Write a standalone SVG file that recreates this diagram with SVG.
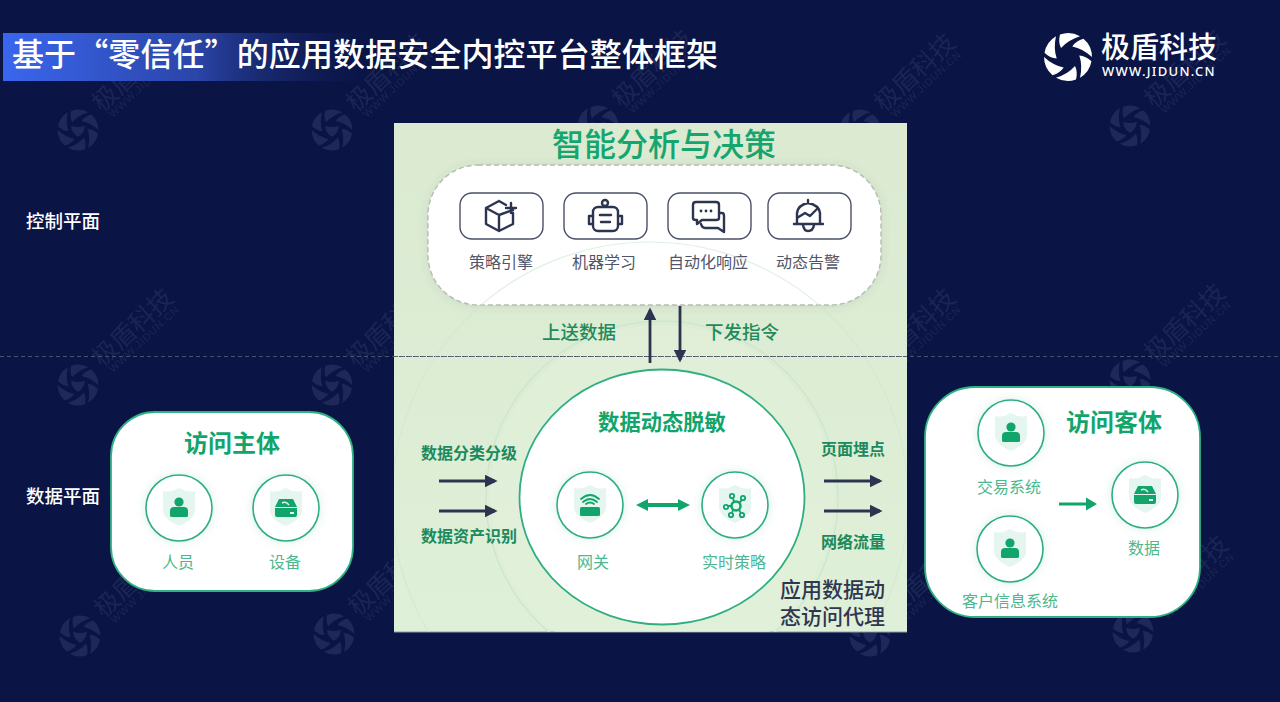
<svg xmlns="http://www.w3.org/2000/svg" width="1280" height="702" viewBox="0 0 1280 702">
<style>
text{font-family:"Noto Sans CJK SC","Noto Sans",sans-serif}
.h{fill:#12a56b;font-weight:700;text-anchor:middle}
.l{fill:#4db78f;font-size:16px;text-anchor:middle}
.d{fill:#50556a;font-size:16px;text-anchor:middle}
.p{fill:#2f3650;font-size:21px;font-weight:500}
.w{fill:#fff;font-size:18.500px;font-weight:500}
.s{fill:#1f8a5c;font-size:18.500px;font-weight:500;text-anchor:middle}
.s2{fill:#1c8a5d;font-size:16px;font-weight:600;text-anchor:middle}
.dk{fill:none;stroke:#2d3450;stroke-width:2.400;stroke-linecap:round;stroke-linejoin:round}
.box{fill:#fff;stroke:#4a5068;stroke-width:1.400}
.ring{fill:#fff;stroke:#2fae7f;stroke-width:1.600}
.card{fill:#fff;stroke:#30b184;stroke-width:1.800}
.wm{fill:#8a94c4}
.arr{stroke:#2d3450;stroke-width:2.800;marker-end:url(#da)}
</style>
<defs>
<filter id="soft" x="-30%" y="-30%" width="160%" height="160%"><feDropShadow dx="0" dy="0" stdDeviation="5" flood-color="#12a56b" flood-opacity=".16"/></filter>
<filter id="soft2" x="-20%" y="-20%" width="140%" height="140%"><feDropShadow dx="0" dy="1" stdDeviation="4" flood-color="#555" flood-opacity=".13"/></filter>
<linearGradient id="tb" x1="0" x2="1" y1="0" y2="0"><stop offset="0" stop-color="#3a66ee"/><stop offset=".5" stop-color="#2b45a8"/><stop offset="1" stop-color="#0a1445" stop-opacity="0"/></linearGradient>
<linearGradient id="pn" x1="0" x2="0" y1="0" y2="1"><stop offset="0" stop-color="#dbead1"/><stop offset="1" stop-color="#dff0d8"/></linearGradient>
<clipPath id="pc"><rect x="394" y="123" width="513" height="509"/></clipPath>
<marker id="da" viewBox="0 0 10 10" refX="8" refY="5" markerWidth="4.600" markerHeight="4.600" orient="auto"><path d="M0 0L10 5L0 10z" fill="#2d3450"/></marker>
<path id="blade" d="M-8-22.500A24 24 0 0 1 12-20.800Q0-17-7-9Q-10-15-8-22.500z"/>
<g id="logo">
<use href="#blade"/><use href="#blade" transform="rotate(60)"/><use href="#blade" transform="rotate(120)"/><use href="#blade" transform="rotate(180)"/><use href="#blade" transform="rotate(240)"/><use href="#blade" transform="rotate(300)"/>
</g>
<g id="mark">
<g opacity=".16" transform="scale(.85)" class="wm"><use href="#logo"/><path d="M-8-5Q0-2 8-5Q8 3 0 8Q-8 3-8-5z"/></g>
<g opacity=".13">
<text transform="translate(24,-17) rotate(-43)" class="wm" style="font-size:25px">极盾科技</text>
<text transform="translate(35,-12) rotate(-43)" class="wm" style="font-size:10.500px;letter-spacing:.9px;font-family:'Liberation Sans',sans-serif">WWW.JIDUN.CN</text>
</g>
</g>
<path id="shield" d="M-16-17Q-8-15 0-20Q8-15 16-17V4Q14 12 0 18Q-14 12-16 4z" fill="#e5f5ef"/>
<g id="person"><use href="#shield"/><circle cx="0" cy="-6" r="4.600" fill="#12a56b"/><path d="M-9 8V3Q-9-1-5-1H5Q9-1 9 3V8Q9 9 7 9H-7Q-9 9-9 8z" fill="#12a56b"/></g>
<g id="disk"><use href="#shield"/><path d="M-7-9H7L11-1H-11z" fill="#12a56b"/><path d="M-11 0H11V7Q11 9 9 9H-9Q-11 9-11 7z" fill="#12a56b"/><path d="M3-3Q0-7-4-5" fill="none" stroke="#e5f5ef" stroke-width="1.400"/><rect x="4" y="4" width="4" height="2" fill="#e5f5ef"/></g>
</defs>
<rect width="1280" height="702" fill="#0a1445"/>
<g id="watermarks">
<use href="#mark" x="78" y="130"/><use href="#mark" x="332" y="130"/><use href="#mark" x="598" y="126"/><use href="#mark" x="860" y="130"/><use href="#mark" x="1130" y="126"/>
<use href="#mark" x="78" y="385"/><use href="#mark" x="332" y="385"/><use href="#mark" x="860" y="385"/><use href="#mark" x="1130" y="380"/>
<use href="#mark" x="80" y="636"/><use href="#mark" x="334" y="634"/><use href="#mark" x="870" y="636"/><use href="#mark" x="1133" y="632"/>
</g>
<rect id="title-bar" x="3" y="33" width="388" height="48" fill="url(#tb)"/>
<text x="12" y="66" fill="#fff" style="font-size:32px;font-weight:500;letter-spacing:.1px">基于“零信任”的应用数据安全内控平台整体框架</text>
<g id="brand">
<g transform="translate(1068,57)" fill="#fff"><use href="#logo"/></g>
<text x="1101" y="58" fill="#fff" style="font-size:29px;font-weight:500">极盾科技</text>
<text x="1102" y="76" fill="#fff" style="font-size:13px;font-weight:500;font-family:'Noto Sans','Liberation Sans',sans-serif;letter-spacing:1.300px">WWW.JIDUN.CN</text>
</g>
<rect id="panel" x="394" y="123" width="513" height="509" fill="url(#pn)"/>
<line x1="394" y1="632" x2="907" y2="632" stroke="#8f9cab" stroke-width="1"/>
<circle cx="662" cy="497" r="172" fill="#e2f0da" opacity=".6" clip-path="url(#pc)"/>
<circle cx="662" cy="497" r="176" fill="none" stroke="#cde6cf" stroke-width="1.500" clip-path="url(#pc)"/>
<line x1="0" y1="356.500" x2="1280" y2="356.500" stroke="#4a5068" stroke-width="1" stroke-dasharray="4 3"/>
<text x="26" y="228" class="w">控制平面</text>
<text x="26" y="503" class="w">数据平面</text>
<text x="664" y="156" style="fill:#16a56f;font-size:32px;font-weight:500;text-anchor:middle">智能分析与决策</text>
<g id="analysis">
<rect x="428" y="165" width="453" height="140" rx="50" fill="#fff" stroke="#b5bdb2" stroke-width="1.400" stroke-dasharray="5 3" filter="url(#soft2)"/>
<g id="n-policy-engine">
<rect class="box" x="460" y="193" width="83" height="46" rx="12"/>
<g class="dk"><path d="M499 201L486 208V224L499 231L513 224V213M486 208L499 215L513 210M499 215V231M499 201L506 205"/><path d="M511 203V213M506 208H516"/></g>
<text x="501" y="268" class="d">策略引擎</text>
</g>
<g id="n-ml">
<rect class="box" x="564" y="193" width="83" height="46" rx="12"/>
<g class="dk"><rect x="593" y="207" width="25" height="24" rx="5"/><circle cx="605" cy="203" r="3"/><path d="M593 216H589V224H593M618 216H622V224H618M600 215H611M601 222H610"/></g>
<text x="604" y="268" class="d">机器学习</text>
</g>
<g id="n-response">
<rect class="box" x="668" y="193" width="83" height="46" rx="12"/>
<g class="dk"><path d="M696 202H716Q719 202 719 205V218Q719 220 716 220H702L697 224V220H696Q693 220 693 218V205Q693 202 696 202z"/><path d="M720 213H722Q724 213 724 216V226V232L718 228H705Q702 228 701 224"/></g>
<g fill="#2d3450"><circle cx="701" cy="211" r="1.400"/><circle cx="706" cy="211" r="1.400"/><circle cx="711" cy="211" r="1.400"/></g>
<text x="708" y="268" class="d">自动化响应</text>
</g>
<g id="n-alert">
<rect class="box" x="768" y="193" width="83" height="46" rx="12"/>
<g class="dk"><path d="M797 224V213Q798 205 808 203Q819 205 820 213V224M794 224H823M808 203V200M803 225Q804 231 808 231Q813 231 814 225M797 218L805 213L810 216L817 209"/></g>
<text x="808" y="268" class="d">动态告警</text>
</g>
</g>
<circle cx="650" cy="500" r="258" fill="none" stroke="#cde6cf" stroke-width="1.200" opacity=".6" clip-path="url(#pc)"/>
<line x1="394" y1="356.500" x2="907" y2="356.500" stroke="#5f6672" stroke-width="1" stroke-dasharray="4 3"/>
<g id="connectors">
<line class="arr" x1="650" y1="363" x2="650" y2="310"/>
<line class="arr" x1="680" y1="306" x2="680" y2="360"/>
<line class="arr" x1="439" y1="481" x2="495" y2="481"/>
<line class="arr" x1="439" y1="511" x2="495" y2="511"/>
<line class="arr" x1="824" y1="481" x2="880" y2="481"/>
<line class="arr" x1="824" y1="511" x2="880" y2="511"/>
</g>
<text x="579" y="339" class="s">上送数据</text>
<text x="742" y="339" class="s">下发指令</text>
<text x="469" y="459" class="s2">数据分类分级</text>
<text x="469" y="542" class="s2">数据资产识别</text>
<text x="853" y="455" class="s2">页面埋点</text>
<text x="853" y="548" class="s2">网络流量</text>
<g id="n-masking">
<ellipse cx="662" cy="497" rx="142.500" ry="127.500" fill="#fff" stroke="#2fae7f" stroke-width="1.800"/>
<text x="662" y="430" class="h" style="font-size:21.300px">数据动态脱敏</text>
<g id="n-gateway"><circle class="ring" cx="590" cy="505" r="33" filter="url(#soft)"/><use href="#shield" x="590" y="505"/>
<rect x="580" y="507" width="20" height="9" rx="1.500" fill="#12a56b"/><g fill="none" stroke="#12a56b" stroke-width="1.800" stroke-linecap="round"><path d="M583 502Q590 496 597 502M586 504Q590 501 594 504M581 499Q590 491 599 499"/></g>
<text x="593" y="568" class="l">网关</text></g>
<g id="n-realtime"><circle class="ring" cx="735" cy="505" r="33" filter="url(#soft)"/><use href="#shield" x="735" y="505"/>
<g fill="none" stroke="#12a56b" stroke-width="1.800"><circle cx="736" cy="506" r="4.500" stroke-width="2.500"/><circle cx="732" cy="496" r="2.200"/><circle cx="743" cy="498" r="2.200"/><circle cx="726" cy="507" r="2.200"/><circle cx="731" cy="515" r="2.200"/><circle cx="742" cy="515" r="2.200"/><path d="M734 502L733 498M739 503L742 500M732 506H728M733 510L732 513M739 510L741 513"/></g>
<text x="734" y="568" class="l">实时策略</text></g>
<path d="M636 505L648 499V503H678V499L690 505L678 511V507H648V511z" fill="#12a56b"/>
</g>
<text x="780" y="597" class="p">应用数据动</text>
<text x="780" y="624" class="p">态访问代理</text>
<g id="n-subject">
<rect class="card" x="111" y="412" width="242" height="179" rx="44"/>
<text x="232" y="452" class="h" style="font-size:24px">访问主体</text>
<g id="n-person"><circle class="ring" cx="179" cy="508" r="33" filter="url(#soft)"/><use href="#person" x="179" y="508"/><text x="178" y="568" class="l">人员</text></g>
<g id="n-device"><circle class="ring" cx="286" cy="508" r="33" filter="url(#soft)"/><use href="#disk" x="286" y="508"/><text x="285" y="568" class="l">设备</text></g>
</g>
<g id="n-object">
<rect class="card" x="925" y="387" width="275" height="230" rx="50"/>
<text x="1114" y="431" class="h" style="font-size:24px">访问客体</text>
<g id="n-trade"><circle class="ring" cx="1011" cy="433" r="33" filter="url(#soft)"/><use href="#person" x="1011" y="433"/><text x="1009" y="493" class="l">交易系统</text></g>
<g id="n-customer"><circle class="ring" cx="1010" cy="549" r="33" filter="url(#soft)"/><use href="#person" x="1010" y="549"/><text x="1010" y="607" class="l">客户信息系统</text></g>
<g id="n-data"><circle class="ring" cx="1145" cy="495" r="33" filter="url(#soft)"/><use href="#disk" x="1145" y="495"/><text x="1144" y="554" class="l">数据</text></g>
<path d="M1059 502.500H1086V497.500L1097 504L1086 510.500V505.500H1059z" fill="#12a56b"/>
</g>
</svg>
